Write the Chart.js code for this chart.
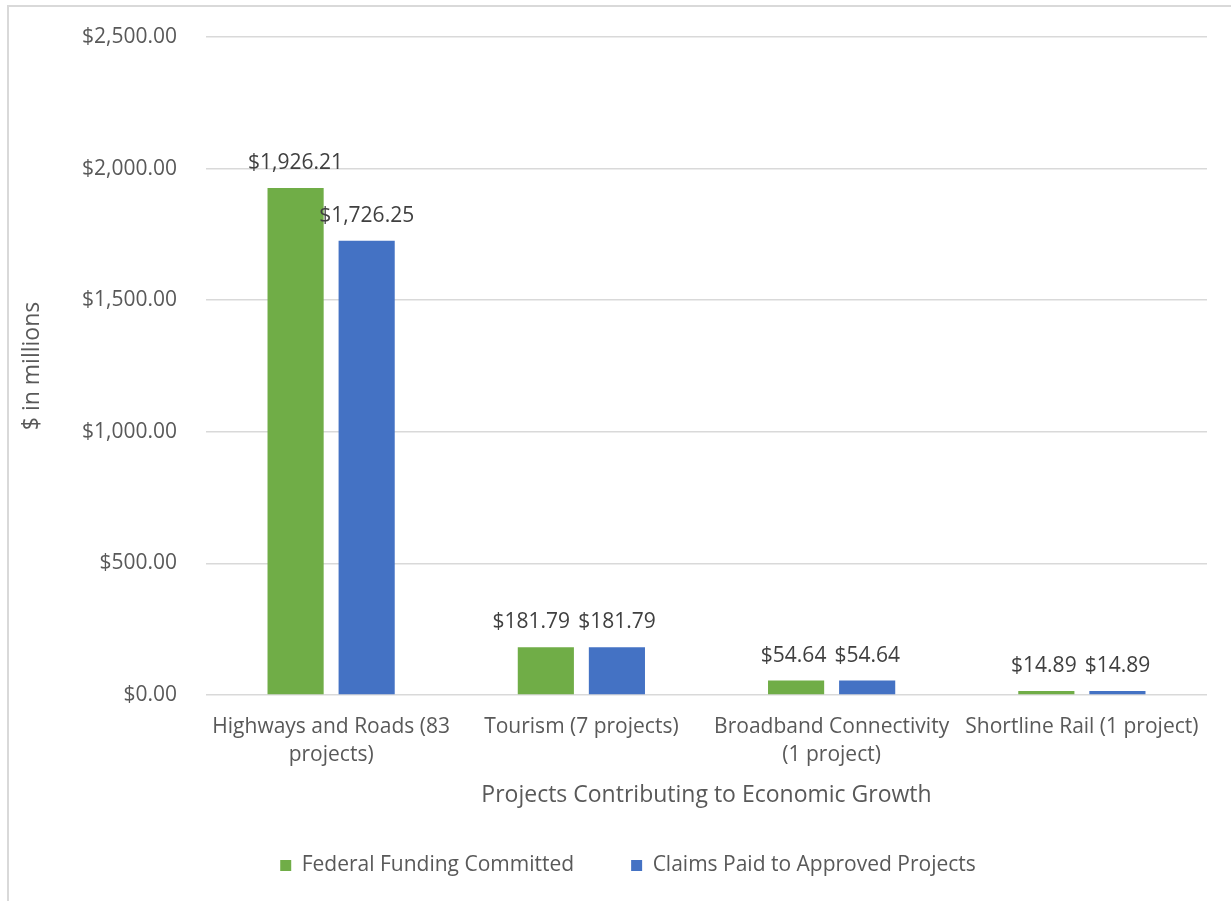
<!DOCTYPE html>
<html>
<head>
<meta charset="utf-8">
<script src="https://cdn.jsdelivr.net/npm/chart.js@4"></script>
<style>
  html, body { margin: 0; padding: 0; background: #fff; }
  body { width: 1231px; height: 901px; overflow: hidden; position: relative; }
  #frame { position: absolute; left: 7px; top: 5px; width: 1300px; height: 1000px;
           border-left: 2px solid #d9d9d9; border-top: 2px solid #d9d9d9; box-sizing: border-box; }
  #wrap { position: absolute; left: 0; top: 0; width: 1231px; height: 901px; }
</style>
</head>
<body>
<div id="frame"></div>
<div id="wrap"><canvas id="c" width="1231" height="901"></canvas></div>
<script>
const categories = [
  ["Highways and Roads (83", "projects)"],
  "Tourism (7 projects)",
  ["Broadband Connectivity", "(1 project)"],
  "Shortline Rail (1 project)"
];
const federalFunding = [1926.21, 181.79, 54.64, 14.89];
const claimsPaid = [1726.25, 181.79, 54.64, 14.89];
const seriesNames = ["Federal Funding Committed", "Claims Paid to Approved Projects"];
const yTicks = [0, 500, 1000, 1500, 2000, 2500];

const FONT = "'Open Sans', 'Noto Sans', sans-serif";
const money = v => "$" + v.toLocaleString("en-US", { minimumFractionDigits: 2, maximumFractionDigits: 2 });

const dataLabels = {
  id: "dataLabels",
  afterDatasetsDraw(chart) {
    const ctx = chart.ctx;
    ctx.save();
    ctx.font = "21px " + FONT;
    ctx.fillStyle = "#404040";
    ctx.textAlign = "center";
    ctx.textBaseline = "middle";
    const n = chart.data.labels.length;
    for (let j = 0; j < n; j++) {
      const items = chart.data.datasets.map((ds, i) => {
        const el = chart.getDatasetMeta(i).data[j];
        const text = money(ds.data[j]);
        return { text, x: el.x, y: el.y - 25, w: ctx.measureText(text).width };
      });
      // avoid overlapping labels at similar heights: push left label leftwards
      for (let k = items.length - 2; k >= 0; k--) {
        const a = items[k], b = items[k + 1];
        if (Math.abs(a.y - b.y) < 22) {
          const gap = 8;
          const overlap = (a.x + a.w / 2 + gap) - (b.x - b.w / 2);
          if (overlap > 0) a.x -= overlap;
        }
      }
      items.forEach(it => ctx.fillText(it.text, it.x, it.y));
    }
    ctx.restore();
  }
};

new Chart(document.getElementById("c"), {
  type: "bar",
  data: {
    labels: categories,
    datasets: [
      { label: seriesNames[0], data: federalFunding, backgroundColor: "#70AD47",
        categoryPercentage: 0.568, barPercentage: 0.79 },
      { label: seriesNames[1], data: claimsPaid, backgroundColor: "#4472C4",
        categoryPercentage: 0.568, barPercentage: 0.79 }
    ]
  },
  options: {
    responsive: false,
    animation: false,
    devicePixelRatio: 1,
    layout: { padding: { top: 37, right: 24, left: 49, bottom: 15 } },
    plugins: {
      tooltip: { enabled: false },
      legend: {
        position: "bottom",
        labels: { font: { family: FONT, size: 21 }, color: "#595959",
                  boxWidth: 11, boxHeight: 11, padding: 57 }
      }
    },
    scales: {
      x: {
        grid: { display: false, drawTicks: false },
        border: { display: false },
        ticks: { font: { family: FONT, size: 21, lineHeight: 1.33 }, color: "#595959",
                 padding: 18, maxRotation: 0, autoSkip: false },
        title: { display: true, text: "Projects Contributing to Economic Growth",
                 font: { family: FONT, size: 23 }, color: "#595959", padding: { top: 0, bottom: -11 } },
        afterFit(s) { s.height = 103; s.paddingTop = 0; s.paddingBottom = 0; }
      },
      y: {
        min: 0, max: 2500,
        afterBuildTicks(s) { s.ticks = yTicks.map(v => ({ value: v })); },
        grid: { color: "#d9d9d9", lineWidth: 1.5, drawTicks: false },
        border: { display: false },
        ticks: { font: { family: FONT, size: 21 }, color: "#595959", padding: 29,
                 callback: v => money(v) },
        title: { display: true, text: "$ in millions",
                 font: { family: FONT, size: 23 }, color: "#595959", padding: { top: -30, bottom: 0 } },
        afterFit(s) { s.width = 157; s.paddingTop = 0; s.paddingBottom = 0; }
      }
    }
  },
  plugins: [dataLabels]
});
</script>
</body>
</html>
